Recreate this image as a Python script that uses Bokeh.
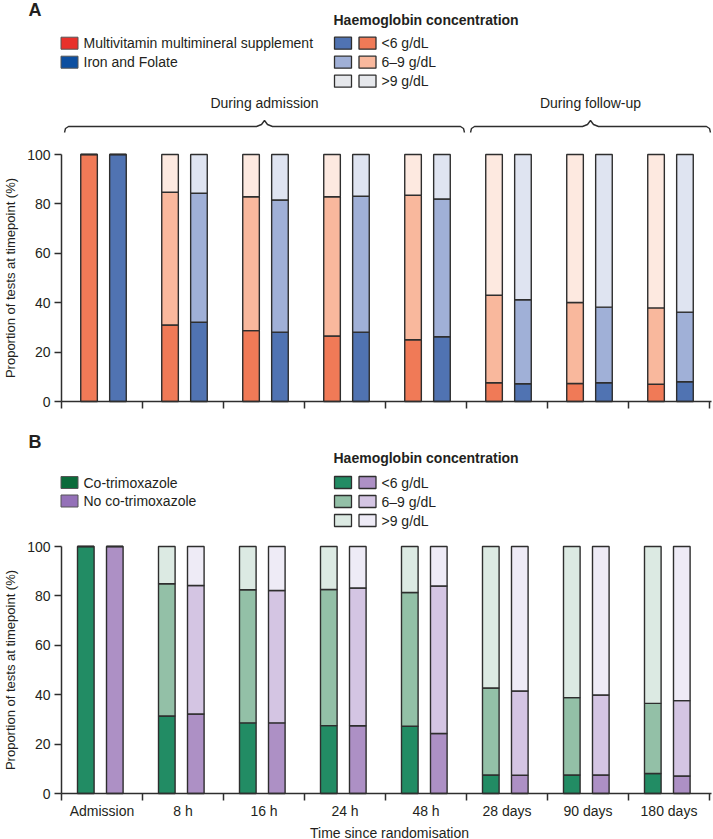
import math
from bokeh.plotting import figure
from bokeh.models import Range1d, FixedTicker, CustomJSTickFormatter
from bokeh.layouts import column
from bokeh.core.properties import value
from bokeh.embed import file_html
from bokeh.resources import INLINE

# ---------------- data ----------------
timepoints = ["Admission", "8 h", "16 h", "24 h", "48 h", "28 days", "90 days", "180 days"]
levels = ["<6 g/dL", "6\u20139 g/dL", ">9 g/dL"]
y_ticks = [0, 20, 40, 60, 80, 100]

# Panel A
mms_lt6 = [100, 31.0, 28.7, 26.5, 25.0, 7.6, 7.3, 7.0]
mms_mid = [0, 53.7, 54.2, 56.4, 58.5, 35.4, 32.8, 30.9]
mms_hi = [0, 15.3, 17.1, 17.1, 16.5, 57.0, 59.9, 62.1]
if_lt6 = [100, 32.1, 28.1, 28.1, 26.2, 7.2, 7.6, 8.0]
if_mid = [0, 52.2, 53.5, 55.0, 55.8, 34.0, 30.6, 28.2]
if_hi = [0, 15.7, 18.4, 16.9, 18.0, 58.8, 61.8, 63.8]

# Panel B
co_lt6 = [100, 31.4, 28.6, 27.5, 27.2, 7.5, 7.5, 8.1]
co_mid = [0, 53.5, 53.9, 55.1, 54.2, 35.2, 31.3, 28.4]
co_hi = [0, 15.1, 17.5, 17.4, 18.6, 57.3, 61.2, 63.5]
no_lt6 = [100, 32.2, 28.6, 27.4, 24.3, 7.4, 7.5, 7.1]
no_mid = [0, 52.0, 53.6, 55.8, 59.7, 34.1, 32.4, 30.5]
no_hi = [0, 15.8, 17.8, 16.8, 16.0, 58.5, 60.1, 62.4]

# ---------------- styles ----------------
FONT = "Liberation Sans"
INK = "#231F20"
EDGE = "#2E2E2E"
MMS_COL = ["#F07A57", "#F9B89D", "#FDE9E0"]
IF_COL = ["#5073B2", "#A0B0D7", "#DFE4F1"]
CO_COL = ["#228C64", "#93C0A7", "#DCEAE3"]
NO_COL = ["#AD90C5", "#D4C5E3", "#EEEBF6"]
LEG_GREY = "#E6E8EC"

W = 713
PX_CAT = 81.0     # pixels per category
PX_UNIT = 2.47    # pixels per percentage point
AX_X0 = 61.0      # page x of axis origin


def dx(px):
    return (px - AX_X0) / PX_CAT


def make_fig(top_page, bottom_page, y0_page):
    height = int(bottom_page - top_page)
    p = figure(width=W, height=height,
               x_range=Range1d(dx(0), dx(W)),
               y_range=Range1d((y0_page - bottom_page) / PX_UNIT, (y0_page - top_page) / PX_UNIT),
               output_backend="svg", toolbar_location=None,
               min_border_left=0, min_border_right=0, min_border_top=0, min_border_bottom=0)
    p.outline_line_color = None
    p.xgrid.visible = False
    p.ygrid.visible = False
    # y axis drawn at x = 0 inside the frame
    ya = p.yaxis[0]
    ya.fixed_location = 0
    ya.ticker = FixedTicker(ticks=y_ticks)
    ya.bounds = (0, 100)
    ya.axis_line_color = EDGE
    ya.axis_line_width = 1.5
    ya.major_tick_line_color = EDGE
    ya.major_tick_line_width = 1.5
    ya.major_tick_out = 7
    ya.major_tick_in = 0
    ya.minor_tick_line_color = None
    ya.major_label_standoff = 4
    ya.major_label_text_font = FONT
    ya.major_label_text_font_size = "14px"
    ya.major_label_text_color = INK
    # x axis drawn at y = 0 inside the frame
    xa = p.xaxis[0]
    xa.fixed_location = 0
    xa.ticker = FixedTicker(ticks=[i + 0.5 for i in range(len(timepoints))],
                            minor_ticks=list(range(len(timepoints) + 1)))
    xa.bounds = (0, 8.02)
    xa.axis_line_color = EDGE
    xa.axis_line_width = 1.5
    xa.major_tick_line_color = None
    xa.minor_tick_line_color = EDGE
    xa.minor_tick_line_width = 1.5
    xa.minor_tick_out = 7
    xa.minor_tick_in = 0
    xa.major_label_text_font = FONT
    xa.major_label_text_font_size = "14px"
    xa.major_label_text_color = INK
    xa.major_label_standoff = 2
    # rotated y label, centred on the 0-100 span
    p.text(x=[dx(10)], y=[50], text=["Proportion of tests at timepoint (%)"],
           angle=math.pi / 2, text_font=value(FONT), text_font_size="13px",
           text_color=INK, text_align="center", text_baseline="middle")
    return p


def add_bars(p, series, colors, xoff):
    xs = [i + 0.5 + xoff for i in range(len(timepoints))]
    bottom = [0.0] * len(xs)
    for vals, col in zip(series, colors):
        top = [b + v for b, v in zip(bottom, vals)]
        p.vbar(x=xs, bottom=bottom, top=top, width=0.205, fill_color=col,
               line_color=EDGE, line_width=1.4)
        bottom = top


def add_legend(p, dy, letter, letter_y, title_y, rows, groups, group_cols, col_a, col_b):
    p.text(x=[dx(28)], y=[dy(letter_y)], text=[letter], text_font=value(FONT),
           text_font_size="18px", text_font_style="bold", text_color=INK,
           text_baseline="middle")
    for name, col, ry in zip(groups, group_cols, rows):
        p.rect(x=[dx(69)], y=[dy(ry)], width=17, height=12, width_units="screen",
               height_units="screen", fill_color=col, line_color="#555555", line_width=1)
        p.text(x=[dx(83)], y=[dy(ry)], text=[name], text_font=value(FONT),
               text_font_size="14px", text_color=INK, text_baseline="middle")
    p.text(x=[dx(333)], y=[dy(title_y)], text=["Haemoglobin concentration"],
           text_font=value(FONT), text_font_size="14px", text_font_style="bold",
           text_color=INK, text_baseline="middle")
    for k, lev in enumerate(levels):
        ry = rows[0] + k * 19
        p.rect(x=[dx(342.5), dx(367)], y=[dy(ry), dy(ry)], width=17, height=12,
               width_units="screen", height_units="screen",
               fill_color=[col_a[k], col_b[k]], line_color=EDGE, line_width=1.3)
        p.text(x=[dx(381)], y=[dy(ry)], text=[lev], text_font=value(FONT),
               text_font_size="14px", text_color=INK, text_baseline="middle")


# ---------------- panel A ----------------
A_TOP, A_BOTTOM, A_Y0 = 0.0, 421.0, 401.0
pA = make_fig(A_TOP, A_BOTTOM, A_Y0)
pA.xaxis[0].formatter = CustomJSTickFormatter(code="return '';")


def dyA(py):
    return (A_Y0 - py) / PX_UNIT


add_bars(pA, [mms_lt6, mms_mid, mms_hi], MMS_COL, -0.16)
add_bars(pA, [if_lt6, if_mid, if_hi], IF_COL, 0.197)
add_legend(pA, dyA, "A", 9, 19, [42.7, 61.7],
           ["Multivitamin multimineral supplement", "Iron and Folate"],
           ["#E8312B", "#0D4FA0"],
           [IF_COL[0], IF_COL[1], LEG_GREY], [MMS_COL[0], MMS_COL[1], LEG_GREY])


def brace(x0, x1):
    xc = (x0 + x1) / 2
    yl, ye, yp = 126, 132, 120
    px = [x0, x0 + 1, x0 + 4, xc - 8, xc - 3, xc, xc + 3, xc + 8, x1 - 4, x1 - 1, x1]
    py = [ye, yl + 2, yl, yl, yl - 2, yp, yl - 2, yl, yl, yl + 2, ye]
    return [dx(v) for v in px], [dyA(v) for v in py], xc


for (b0, b1, lab) in [(64, 464, "During admission"), (470, 710, "During follow-up")]:
    bx, by, bc = brace(b0, b1)
    pA.line(bx, by, line_color=EDGE, line_width=1.4)
    pA.text(x=[dx(bc)], y=[dyA(102)], text=[lab], text_font=value(FONT),
            text_font_size="14px", text_color=INK, text_align="center",
            text_baseline="middle")

# ---------------- panel B ----------------
B_TOP, B_BOTTOM, B_Y0 = A_BOTTOM, 839.0, 793.0
pB = make_fig(B_TOP, B_BOTTOM, B_Y0)
pB.xaxis[0].formatter = CustomJSTickFormatter(args=dict(labels=timepoints),
                                              code="return labels[Math.floor(tick)];")


def dyB(py):
    return (B_Y0 - py) / PX_UNIT


pB.text(x=[dx(389)], y=[dyB(832)], text=["Time since randomisation"],
        text_font=value(FONT), text_font_size="14px", text_color=INK,
        text_align="center", text_baseline="middle")

add_bars(pB, [co_lt6, co_mid, co_hi], CO_COL, -0.2)
add_bars(pB, [no_lt6, no_mid, no_hi], NO_COL, 0.158)
add_legend(pB, dyB, "B", 441, 457, [482, 500.5],
           ["Co-trimoxazole", "No co-trimoxazole"],
           ["#0B6B3A", "#9471B8"],
           [CO_COL[0], CO_COL[1], CO_COL[2]], [NO_COL[0], NO_COL[1], NO_COL[2]])

layout = column(pA, pB, spacing=0)
open("out.html", "w").write(file_html(layout, INLINE))
